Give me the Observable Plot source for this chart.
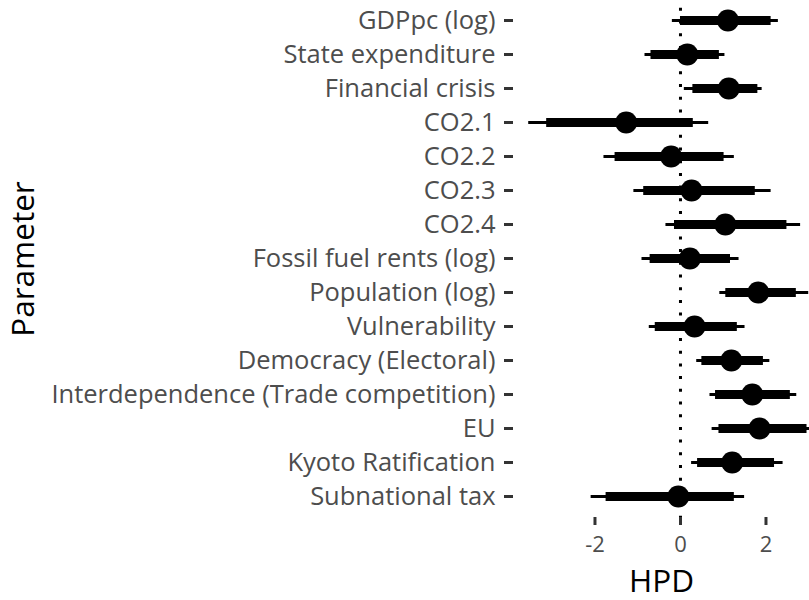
<!DOCTYPE html>
<html>
<head>
<meta charset="utf-8">
<script src="https://cdn.jsdelivr.net/npm/d3@7"></script>
<script src="https://cdn.jsdelivr.net/npm/@observablehq/plot@0.6"></script>
<style>
  html, body { margin: 0; padding: 0; background: #fff; overflow: hidden; }
  #chart svg { display: block; overflow: hidden; }
</style>
</head>
<body>
<div id="chart"></div>
<script>
const params = ["GDPpc (log)", "State expenditure", "Financial crisis", "CO2.1", "CO2.2", "CO2.3", "CO2.4", "Fossil fuel rents (log)", "Population (log)", "Vulnerability", "Democracy (Electoral)", "Interdependence (Trade competition)", "EU", "Kyoto Ratification", "Subnational tax"];
const estimate = [1.11, 0.16, 1.13, -1.27, -0.22, 0.26, 1.05, 0.22, 1.82, 0.33, 1.19, 1.68, 1.85, 1.21, -0.05];
const lower95 = [-0.19, -0.83, 0.09, -3.55, -1.79, -1.09, -0.34, -0.90, 0.92, -0.73, 0.38, 0.69, 0.74, 0.26, -2.09];
const upper95 = [2.29, 1.04, 1.91, 0.66, 1.26, 2.12, 2.81, 1.37, 3.0, 1.51, 2.09, 2.72, 3.2, 2.40, 1.50];
const lower80 = [0.0, -0.69, 0.29, -3.13, -1.53, -0.86, -0.14, -0.71, 1.06, -0.59, 0.50, 0.82, 0.90, 0.40, -1.74];
const upper80 = [2.12, 0.91, 1.81, 0.30, 1.02, 1.75, 2.49, 1.17, 2.71, 1.33, 1.94, 2.57, 2.96, 2.20, 1.26];
const xTicks = [-2, 0, 2];
const xTitle = "HPD";
const yTitle = "Parameter";

const data = params.map((p, i) => ({
  param: p, est: estimate[i], lo95: lower95[i], hi95: upper95[i], lo80: lower80[i], hi80: upper80[i]
}));

const chart = Plot.plot({
  width: 809,
  height: 600,
  marginLeft: 513,
  marginRight: 0,
  marginTop: 0,
  marginBottom: 83,
  style: { fontFamily: "'Open Sans', sans-serif", background: "white" },
  x: { domain: [-3.906, 3.018] },
  y: { type: "point", domain: params, range: [19.5, 497], padding: 0 },
  marks: [
    Plot.ruleX([0], { stroke: "black", strokeWidth: 3, strokeDasharray: "3 9.7", strokeDashoffset: 4.9 }),
    Plot.ruleY(data, { y: "param", x1: "lo95", x2: "hi95", stroke: "black", strokeWidth: 3, clip: true }),
    Plot.ruleY(data, { y: "param", x1: "lo80", x2: "hi80", stroke: "black", strokeWidth: 9, clip: true }),
    Plot.dot(data, { y: "param", x: "est", r: 11, fill: "black", stroke: "none" }),
    Plot.axisY({ tickSize: 9, tickFormat: () => "", stroke: "#333333", strokeWidth: 3, label: null }),
    Plot.axisY({ tickSize: 0, tickPadding: 18, fontSize: 25.5, fill: "#4d4d4d", label: null }),
    Plot.axisX({ ticks: xTicks, tickSize: 8, tickFormat: () => "", stroke: "#333333", strokeWidth: 3, label: null }),
    Plot.axisX({ ticks: xTicks, tickSize: 0, tickPadding: 19, fontSize: 22, fill: "#4d4d4d", label: null, tickFormat: d => d }),
    Plot.text([xTitle], { frameAnchor: "bottom", lineAnchor: "middle", dy: 64, fontSize: 31.5, fill: "black" }),
    Plot.text([yTitle], { frameAnchor: "left", textAnchor: "middle", lineAnchor: "middle", rotate: -90, dx: -490, fontSize: 31.5, fill: "black" })
  ]
});
document.getElementById("chart").appendChild(chart);
</script>
</body>
</html>
